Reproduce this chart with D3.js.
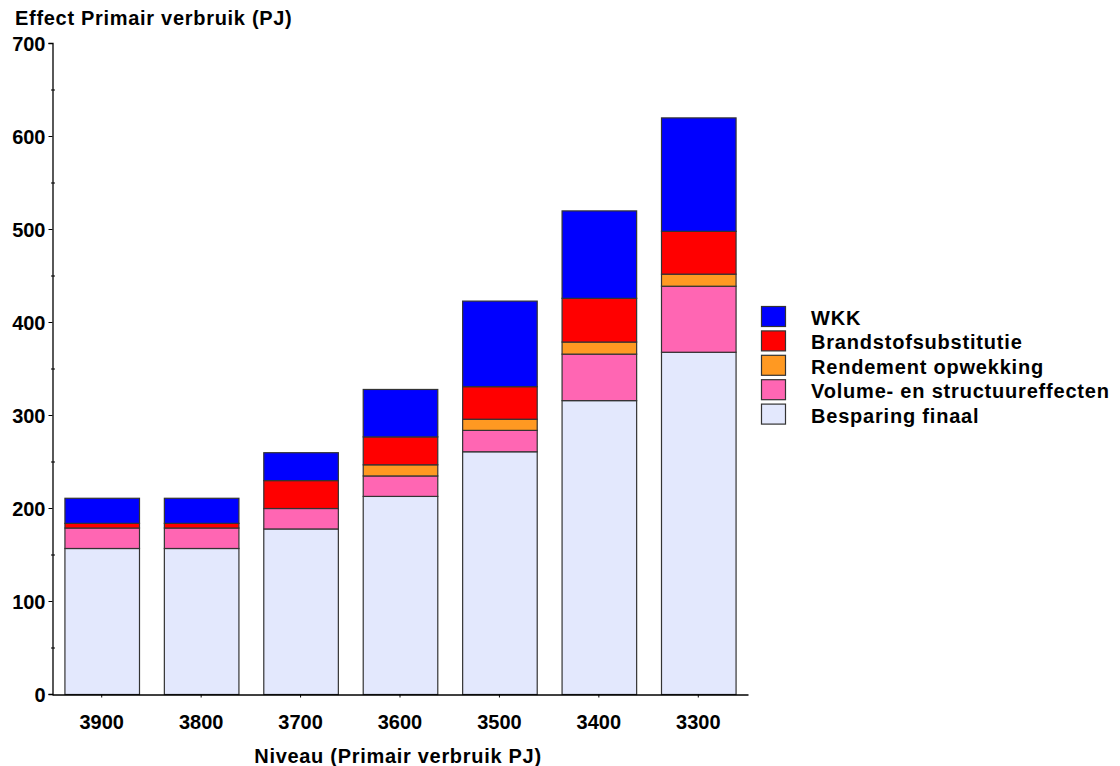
<!DOCTYPE html>
<html><head><meta charset="utf-8">
<script src="https://cdn.jsdelivr.net/npm/d3@7"></script>
<style>
body{margin:0;background:#fff;}
text{font-family:"Liberation Sans",Arial,sans-serif;font-weight:bold;fill:#000;}
</style></head>
<body><svg id="c" width="1120" height="766"></svg>
<script>
const categories = ["3900","3800","3700","3600","3500","3400","3300"];
const besparingFinaal = [157,157,178,213,261,316,368];
const volumeStructuur = [22,22,22,22,23,50,71];
const rendementOpwekking = [0,0,0,12,12,13,13];
const brandstofsubstitutie = [5,5,30,30,35,47,46];
const wkk = [27,27,30,51,92,94,122];
const seriesNames = ["Besparing finaal","Volume- en structuureffecten","Rendement opwekking","Brandstofsubstitutie","WKK"];
const seriesValues = [besparingFinaal,volumeStructuur,rendementOpwekking,brandstofsubstitutie,wkk];
const seriesColors = ["#E3E8FD","#FF66B3","#FF9922","#FF0000","#0000FF"];
const yTicks = [0,100,200,300,400,500,600,700];
const yMinorTicks = [50,150,250,350,450,550,650];

const svg = d3.select("#c");
const x0 = 52, x1 = 748, yBase = 694, yTop = 43;
const x = d3.scaleBand().domain(categories).range([x0,x1]).paddingInner(0.25).paddingOuter(0.125);
const y = d3.scaleLinear().domain([0,700]).range([yBase,yTop]);

const rows = categories.map((c,i)=>{const r={cat:c}; seriesNames.forEach((s,j)=>r[s]=seriesValues[j][i]); return r;});
const stacked = d3.stack().keys(seriesNames)(rows);

const g = svg.append("g");
stacked.forEach((layer,j)=>{
  g.selectAll(null).data(layer.filter(d=>d[1]-d[0]>0)).enter().append("rect")
    .attr("x",d=>x(d.data.cat)+0.5).attr("width",x.bandwidth())
    .attr("y",d=>y(d[1])+0.5).attr("height",d=>y(d[0])-y(d[1]))
    .attr("fill",seriesColors[j]).attr("stroke","#333").attr("stroke-width",1.2);
});

// y axis
const yAxis = d3.axisLeft(y).tickValues(yTicks).tickSize(4).tickPadding(3);
const ya = svg.append("g").attr("transform",`translate(${x0+0.5},0)`).call(yAxis);
ya.select(".domain").attr("stroke","#000").attr("stroke-width",1.3);
ya.selectAll(".tick line").attr("stroke","#000");
ya.selectAll("text").style("font-size","20px").style("font-family","Liberation Sans, Arial").style("font-weight","bold").attr("dy","0.36em");
svg.append("g").selectAll("line").data(yMinorTicks).enter().append("line")
  .attr("x1",x0-1).attr("x2",x0+3).attr("y1",d=>y(d)+0.5).attr("y2",d=>y(d)+0.5).attr("stroke","#000");

// x axis
const xAxis = d3.axisBottom(x).tickSize(3).tickPadding(17).tickSizeOuter(0);
const xa = svg.append("g").attr("transform",`translate(0,${yBase+0.5})`).call(xAxis);
xa.select(".domain").attr("stroke","#000").attr("stroke-width",1.3);
xa.selectAll(".tick line").attr("stroke","#000");
xa.selectAll("text").style("font-size","20px").style("font-family","Liberation Sans, Arial").style("font-weight","bold").attr("dy","0.71em");

svg.append("text").attr("x",15).attr("y",25).style("font-size","20px").style("letter-spacing","0.7px").text("Effect Primair verbruik (PJ)");
svg.append("text").attr("x",398).attr("y",763).attr("text-anchor","middle").style("font-size","20px").style("letter-spacing","0.7px").text("Niveau (Primair verbruik PJ)");

// legend
const legendOrder = [4,3,2,1,0];
const lg = svg.append("g");
legendOrder.forEach((j,k)=>{
  const yy = 306 + k*24.4;
  lg.append("rect").attr("x",761.5).attr("y",yy+0.5).attr("width",24).attr("height",20)
    .attr("fill",seriesColors[j]).attr("stroke","#333").attr("stroke-width",1.2);
  lg.append("text").attr("x",811).attr("y",yy+19).style("font-size","20px").style("letter-spacing","0.8px").text(seriesNames[j]);
});
</script></body></html>
